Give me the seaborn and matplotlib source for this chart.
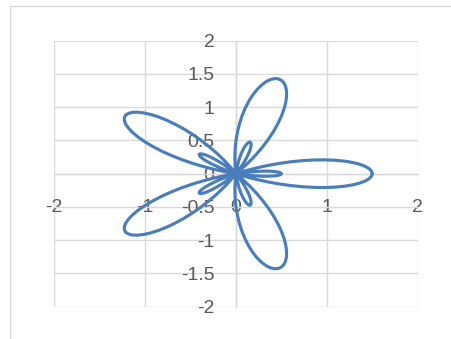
import matplotlib
matplotlib.use("Agg")
import matplotlib.pyplot as plt
from matplotlib.lines import Line2D
import numpy as np
import pandas as pd
import seaborn as sns

# Five-petal rose: radius at each sampled polar angle, 0..360 degrees in 1.5 degree steps
radius = [
    1.5, 1.491, 1.466, 1.424, 1.366, 1.293, 1.207, 1.109, 1.0, 0.883, 0.759, 0.631,
    0.5, 0.369, 0.241, 0.117, 0.0, -0.109, -0.207, -0.293, -0.366, -0.424, -0.466, -0.491,
    -0.5, -0.491, -0.466, -0.424, -0.366, -0.293, -0.207, -0.109, 0.0, 0.117, 0.241, 0.369,
    0.5, 0.631, 0.759, 0.883, 1.0, 1.109, 1.207, 1.293, 1.366, 1.424, 1.466, 1.491,
    1.5, 1.491, 1.466, 1.424, 1.366, 1.293, 1.207, 1.109, 1.0, 0.883, 0.759, 0.631,
    0.5, 0.369, 0.241, 0.117, 0.0, -0.109, -0.207, -0.293, -0.366, -0.424, -0.466, -0.491,
    -0.5, -0.491, -0.466, -0.424, -0.366, -0.293, -0.207, -0.109, 0.0, 0.117, 0.241, 0.369,
    0.5, 0.631, 0.759, 0.883, 1.0, 1.109, 1.207, 1.293, 1.366, 1.424, 1.466, 1.491,
    1.5, 1.491, 1.466, 1.424, 1.366, 1.293, 1.207, 1.109, 1.0, 0.883, 0.759, 0.631,
    0.5, 0.369, 0.241, 0.117, 0.0, -0.109, -0.207, -0.293, -0.366, -0.424, -0.466, -0.491,
    -0.5, -0.491, -0.466, -0.424, -0.366, -0.293, -0.207, -0.109, 0.0, 0.117, 0.241, 0.369,
    0.5, 0.631, 0.759, 0.883, 1.0, 1.109, 1.207, 1.293, 1.366, 1.424, 1.466, 1.491,
    1.5, 1.491, 1.466, 1.424, 1.366, 1.293, 1.207, 1.109, 1.0, 0.883, 0.759, 0.631,
    0.5, 0.369, 0.241, 0.117, 0.0, -0.109, -0.207, -0.293, -0.366, -0.424, -0.466, -0.491,
    -0.5, -0.491, -0.466, -0.424, -0.366, -0.293, -0.207, -0.109, 0.0, 0.117, 0.241, 0.369,
    0.5, 0.631, 0.759, 0.883, 1.0, 1.109, 1.207, 1.293, 1.366, 1.424, 1.466, 1.491,
    1.5, 1.491, 1.466, 1.424, 1.366, 1.293, 1.207, 1.109, 1.0, 0.883, 0.759, 0.631,
    0.5, 0.369, 0.241, 0.117, 0.0, -0.109, -0.207, -0.293, -0.366, -0.424, -0.466, -0.491,
    -0.5, -0.491, -0.466, -0.424, -0.366, -0.293, -0.207, -0.109, 0.0, 0.117, 0.241, 0.369,
    0.5, 0.631, 0.759, 0.883, 1.0, 1.109, 1.207, 1.293, 1.366, 1.424, 1.466, 1.491,
    1.5,
]
angle_deg = np.linspace(0.0, 360.0, len(radius))

x_ticks = [-2, -1, 0, 1, 2]
x_labels = ["-2", "-1", "0", "1", "2"]
y_ticks = [-2, -1.5, -1, -0.5, 0, 0.5, 1, 1.5, 2]
y_labels = ["-2", "-1.5", "-1", "-0.5", "0", "0.5", "1", "1.5", "2"]

theta = np.deg2rad(angle_deg)
r = np.array(radius)
df = pd.DataFrame({"x": r * np.cos(theta), "y": r * np.sin(theta)})

sns.set_style("white")
plt.rcParams["font.family"] = ["Liberation Sans", "DejaVu Sans"]

GRID = "#d9d9d9"
TEXT = "#595959"

fig = plt.figure(figsize=(4.51, 3.39), dpi=100)
ax = fig.add_axes([0.1204, 0.0953, 0.8058, 0.7847])

sns.lineplot(data=df, x="x", y="y", sort=False, estimator=None,
             color="#4a7ebb", linewidth=2.25, ax=ax, zorder=5)
for ln in ax.get_lines():
    ln.set_solid_joinstyle("round")
    ln.set_solid_capstyle("round")

ax.set_xlim(-2, 2)
ax.set_ylim(-2, 2)
ax.set_xticks(x_ticks)
ax.set_xticklabels(x_labels)
ax.set_yticks(y_ticks)
ax.set_yticklabels(y_labels)
ax.set_xlabel("")
ax.set_ylabel("")

ax.grid(True, color=GRID, linewidth=1.0)
for gl in ax.get_xgridlines() + ax.get_ygridlines():
    gl.set_clip_on(False)

for side in ("top", "right"):
    ax.spines[side].set_visible(False)
for side in ("left", "bottom"):
    ax.spines[side].set_position("zero")
    ax.spines[side].set_color(GRID)
    ax.spines[side].set_linewidth(1.0)

ax.tick_params(axis="both", length=0, labelsize=14, labelcolor=TEXT)
ax.tick_params(axis="y", pad=15.5)
ax.tick_params(axis="x", pad=18)

# Chart-area border
W, H = 451, 339
fig.add_artist(Line2D([10 / W, 10 / W], [0, 1 - 6 / H], transform=fig.transFigure,
                      color=GRID, linewidth=1.0))
fig.add_artist(Line2D([10 / W, 1], [1 - 6 / H, 1 - 6 / H], transform=fig.transFigure,
                      color=GRID, linewidth=1.0))

fig.savefig("out.png", dpi=100)
